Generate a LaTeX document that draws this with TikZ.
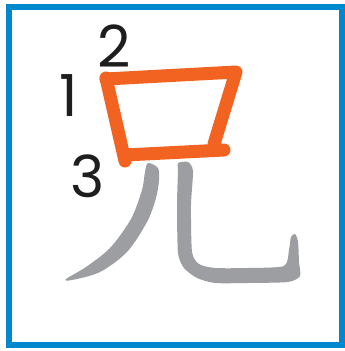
\documentclass[tikz,border=0pt]{standalone}
\usepackage{fontspec}
\setmainfont{Poppins}
\definecolor{frameblue}{RGB}{0,136,207}
\definecolor{strokeorange}{RGB}{242,99,34}
\definecolor{strokegray}{RGB}{157,158,162}
\definecolor{digitblack}{RGB}{30,30,30}
\tikzset{
  frame/.style={draw=frameblue, line width=5.5pt},
  redstroke/.style={draw=strokeorange, line width=13pt, line cap=round, line join=round},
  graystroke/.style={fill=strokegray, draw=none},
  digit/.style={inner sep=0pt, outer sep=0pt, text=digitblack, font=\fontsize{58}{58}\selectfont}
}
\begin{document}
\begin{tikzpicture}[x=1pt, y=-1pt]
\useasboundingbox (0,0) rectangle (345,351);
\fill[white] (0,0) rectangle (345,351);
\draw[frame] (8.8,6.8) rectangle (342.2,345.2);
% orange strokes
\coordinate (s1a) at (106,78);
\coordinate (s1b) at (125,161);
\coordinate (s2a) at (106,79);
\coordinate (s2b) at (236,72);
\coordinate (s2c) at (214,144);
\coordinate (s3a) at (125,155);
\coordinate (s3b) at (224,150);
\draw[redstroke] (s1a) -- (s1b);
\draw[redstroke] (s2a) -- (s2b) -- (s2c);
\draw[redstroke] (s3a) -- (s3b);
% gray strokes
\fill[graystroke] plot[smooth cycle, tension=0.5] coordinates {
  (148,163) (158,168) (159,180) (156,198) (147,222) (127,252) (100,272) (72,280) (66,279)
  (86,267) (110,248) (131,219) (142,190) (145,172)};
\fill[graystroke] plot[smooth cycle, tension=0.4] coordinates {
  (178,163) (188,162) (193,171) (191,205) (192,252) (199,264) (215,268) (248,268) (284,266)
  (289,250) (291,237) (295,234) (298,241) (299,262) (300,276) (288,282) (248,283) (215,283)
  (197,278) (184,268) (178,253) (177,205) (178,171)};
% digits
\node[digit] (n1) at (69,96) {1};
\node[digit] (n2) at (114,46) {2};
\node[digit] (n3) at (88,176) {3};
\end{tikzpicture}
\end{document}
